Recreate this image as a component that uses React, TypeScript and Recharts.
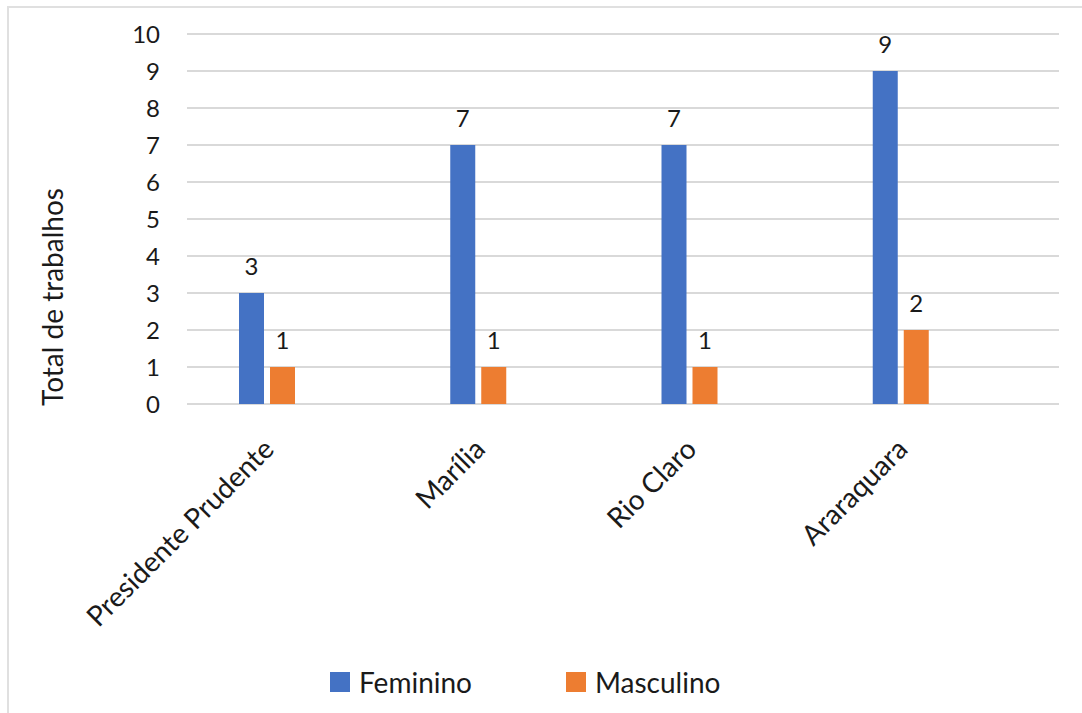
import * as React from "react";
import {
  BarChart,
  Bar,
  XAxis,
  YAxis,
  CartesianGrid,
  LabelList,
} from "recharts";

// trabalhos por campus, separados por gênero
const campi = ["Presidente Prudente", "Marília", "Rio Claro", "Araraquara"];
const feminino = [3, 7, 7, 9];
const masculino = [1, 1, 1, 2];
const yTicks = [0, 1, 2, 3, 4, 5, 6, 7, 8, 9, 10];

const AZUL = "#4472C4";
const LARANJA = "#ED7D31";
const GRADE = "#d9d9d9";
const TEXTO = "#1a1a1a";
const FONTE = "Lato, 'Open Sans', sans-serif";
const TAM_NUM = 24; // números (eixo e rótulos)
const TAM_TXT = 28; // textos (categorias, título, legenda)

const data = campi.map((c, i) => ({
  campus: c,
  Feminino: feminino[i],
  Masculino: masculino[i],
}));

function CampusTick(props: any) {
  const { x, y, payload } = props;
  const tx = x + 9;
  const ty = y + 47;
  return (
    <text
      x={tx}
      y={ty}
      transform={`rotate(-45, ${tx}, ${ty})`}
      textAnchor="end"
      fontSize={TAM_TXT}
      fontFamily={FONTE}
      fill={TEXTO}
    >
      {payload.value}
    </text>
  );
}

function TituloEixoY(props: any) {
  const vb = props.viewBox || {};
  const cx = 54;
  const cy = (vb.y ?? 0) + (vb.height ?? 0) / 2 + 78;
  return (
    <text
      transform={`translate(${cx}, ${cy}) rotate(-90)`}
      textAnchor="middle"
      fontSize={TAM_TXT}
      fontFamily={FONTE}
      fill={TEXTO}
    >
      Total de trabalhos
    </text>
  );
}

function Legenda() {
  const itens = [
    { nome: "Feminino", cor: AZUL, left: 321 },
    { nome: "Masculino", cor: LARANJA, left: 557 },
  ];
  return (
    <>
      {itens.map((it) => (
        <div
          key={it.nome}
          style={{
            position: "absolute",
            left: it.left,
            top: 659,
            height: 30,
            display: "flex",
            alignItems: "center",
            fontFamily: FONTE,
            fontSize: TAM_TXT,
            color: TEXTO,
            whiteSpace: "nowrap",
          }}
        >
          <span
            style={{
              width: 20,
              height: 20,
              background: it.cor,
              display: "inline-block",
              marginRight: 9,
            }}
          />
          <span>{it.nome}</span>
        </div>
      ))}
    </>
  );
}

export default function App() {
  return (
    <div
      style={{
        position: "absolute",
        left: 7,
        top: 6,
        width: 1073,
        height: 705,
        borderLeft: `2px solid #e0e0e0`,
        borderTop: `2px solid #e0e0e0`,
        background: "#fff",
        fontFamily: FONTE,
      }}
    >
      <BarChart
        width={1073}
        height={705}
        data={data}
        margin={{ top: 26, right: 23, bottom: 0, left: 0 }}
        barSize={25}
        barGap={6}
      >
        <CartesianGrid vertical={false} stroke={GRADE} strokeWidth={2} />
        <XAxis
          dataKey="campus"
          height={309}
          padding={{ left: -26, right: 53 }}
          axisLine={false}
          tickLine={false}
          tickSize={0}
          tickMargin={0}
          interval={0}
          tick={<CampusTick />}
        />
        <YAxis
          width={178}
          domain={[0, 10]}
          ticks={yTicks}
          axisLine={false}
          tickLine={false}
          tickSize={0}
          tickMargin={27}
          tick={{ fontSize: TAM_NUM, fill: TEXTO, fontFamily: FONTE }}
          label={<TituloEixoY />}
        />
        <Bar dataKey="Feminino" fill={AZUL} isAnimationActive={false}>
          <LabelList
            dataKey="Feminino"
            position="top"
            offset={18}
            fontSize={TAM_NUM}
            fontFamily={FONTE}
            fill={TEXTO}
          />
        </Bar>
        <Bar dataKey="Masculino" fill={LARANJA} isAnimationActive={false}>
          <LabelList
            dataKey="Masculino"
            position="top"
            offset={18}
            fontSize={TAM_NUM}
            fontFamily={FONTE}
            fill={TEXTO}
          />
        </Bar>
      </BarChart>
      <Legenda />
    </div>
  );
}
